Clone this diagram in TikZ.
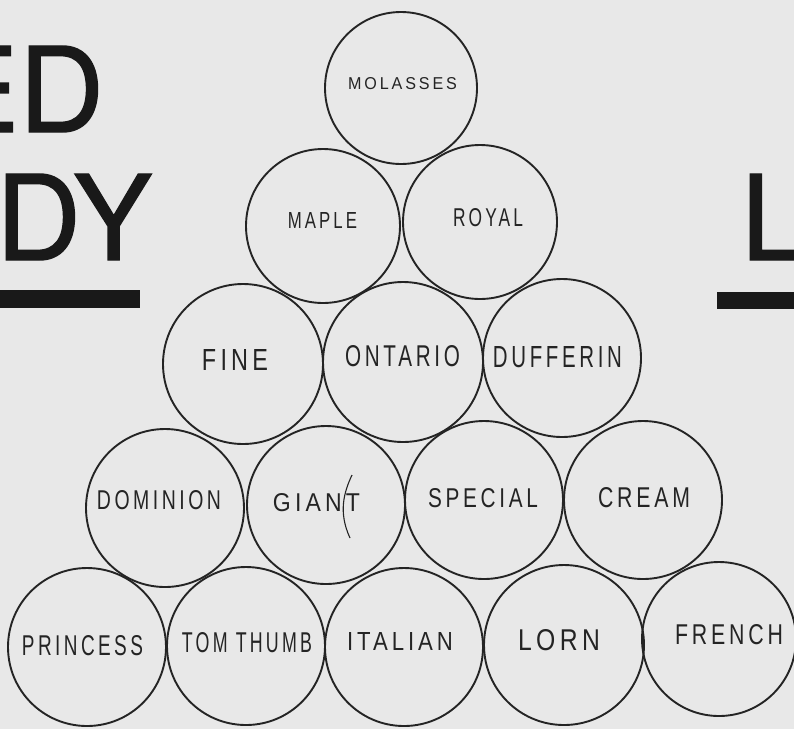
\documentclass[tikz,border=0pt]{standalone}
\usepackage{fontspec}
\usepackage{graphicx}
\setmainfont{Liberation Sans}
\newfontfamily\bigfont[FakeBold=1.2]{TeX Gyre Heros}
\newfontfamily\handfont[LetterSpace=18]{Liberation Sans}
\definecolor{paper}{gray}{0.91}
\definecolor{ink}{gray}{0.10}
\definecolor{pen}{gray}{0.14}
\newcommand{\hlbl}[3]{\resizebox{#2pt}{#3pt}{\handfont #1}}
\begin{document}
\begin{tikzpicture}[x=1pt,y=-1pt,
  disc/.style={draw=pen, line width=1.9pt, circle, inner sep=0pt, outer sep=0pt, minimum size=#1},
  lbl/.style={inner sep=0pt, outer sep=0pt, text=pen},
  bigtxt/.style={inner sep=0pt, outer sep=0pt, text=ink, font=\bigfont\fontsize{118}{118}\selectfont},
  bar/.style={fill=ink}]
\fill[paper] (0,0) rectangle (794,729);
\useasboundingbox (0,0) rectangle (794,729);

% big partial title letters
\node[bigtxt, anchor=base east] (ed) at (104,132) {ED};
\node[bigtxt, anchor=base east] (dy) at (152,260) {DY};
\node[bigtxt, anchor=base west] (l) at (741,260) {L};
\fill[bar] (0,290) rectangle (140,308);
\fill[bar] (717,292) rectangle (794,309);

% circles
\node[disc=152pt] (molasses) at (401,88) {};
\node[disc=154pt] (maple) at (323,226) {};
\node[disc=154pt] (royal) at (480,222) {};
\node[disc=160pt] (fine) at (243,364) {};
\node[disc=160pt] (ontario) at (403,362) {};
\node[disc=158pt] (dufferin) at (562,358) {};
\node[disc=158pt] (dominion) at (165,508) {};
\node[disc=158pt] (giant) at (326,505) {};
\node[disc=158pt] (special) at (484,500) {};
\node[disc=158pt] (cream) at (643,500) {};
\node[disc=158pt] (princess) at (87,647) {};
\node[disc=158pt] (tomthumb) at (246,646) {};
\node[disc=158pt] (italian) at (404,647) {};
\node[disc=160pt] (lorn) at (564,645) {};
\node[disc=154pt] (french) at (719,639) {};

% labels
\node[lbl] (tmolasses) at (402.5,84) {\hlbl{MOLASSES}{109}{12}};
\node[lbl] (tmaple) at (322.5,220) {\hlbl{MAPLE}{69}{16}};
\node[lbl] (troyal) at (488,218) {\hlbl{ROYAL}{70}{18}};
\node[lbl] (tfine) at (235,360) {\hlbl{FINE}{66}{21}};
\node[lbl] (tontario) at (402.5,356) {\hlbl{ONTARIO}{115}{21}};
\node[lbl] (tdufferin) at (557.5,357) {\hlbl{DUFFERIN}{129}{21}};
\node[lbl] (tdominion) at (159,500) {\hlbl{DOMINION}{124}{19}};
\node[lbl] (tgiant) at (316.5,503) {\hlbl{GIANT}{87}{18}};
\node[lbl] (tspecial) at (483,498) {\hlbl{SPECIAL}{110}{19}};
\node[lbl] (tcream) at (644,498) {\hlbl{CREAM}{92}{20}};
\node[lbl] (tprincess) at (82.5,646) {\hlbl{PRINCESS}{121}{20}};
\node[lbl] (ttomthumb) at (247,643) {\hlbl{TOM THUMB}{130}{20}};
\node[lbl] (titalian) at (400,641) {\hlbl{ITALIAN}{106}{18}};
\node[lbl] (tlorn) at (559,640) {\hlbl{LORN}{82}{21}};
\node[lbl] (tfrench) at (729,635) {\hlbl{FRENCH}{108}{20}};

% correction stroke through GIANT
\coordinate (s1) at (352,475);
\coordinate (s2) at (350,538);
\draw[pen, line width=1.1pt] (s1) .. controls (344,492) and (338,512) .. (s2);
\end{tikzpicture}
\end{document}
